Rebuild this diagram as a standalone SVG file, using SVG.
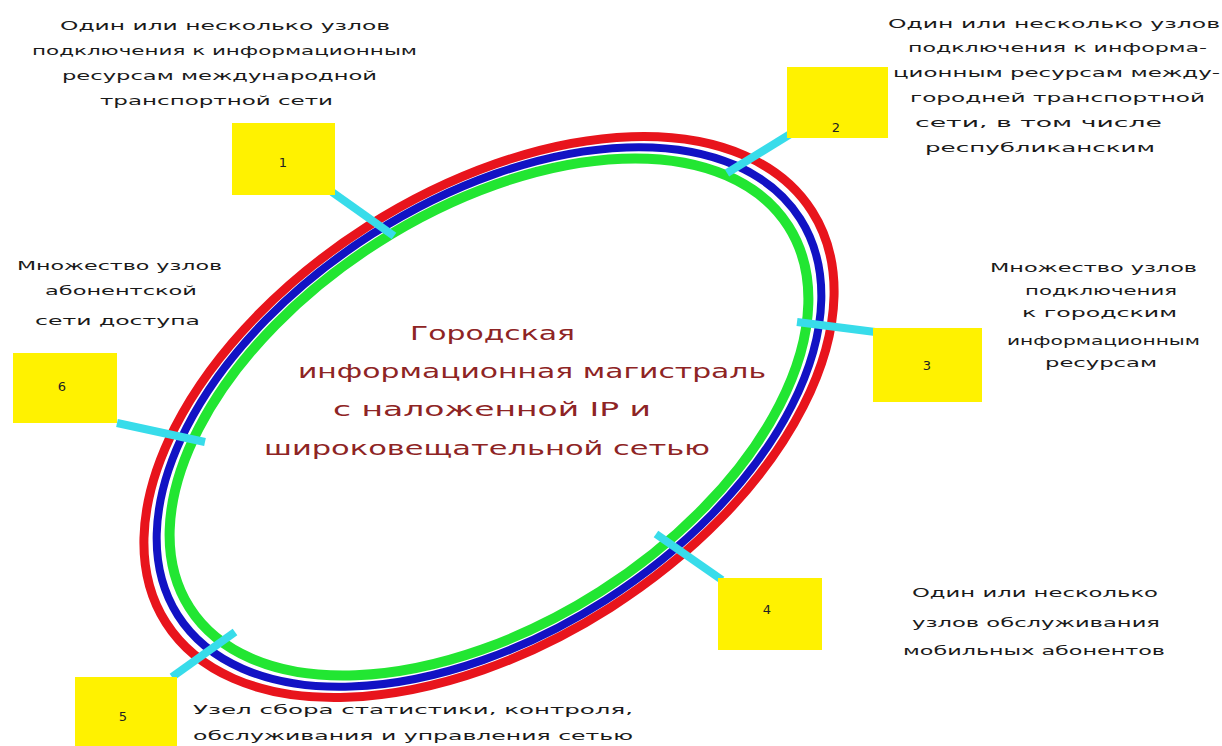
<svg xmlns="http://www.w3.org/2000/svg" width="1222" height="746" viewBox="0 0 1222 746">
<style>
.bg{fill:#ffffff}
.ring{fill:none}
.r{stroke:#e8141c;stroke-width:9}
.b{stroke:#1212c4;stroke-width:8}
.g{stroke:#22e632;stroke-width:10}
.conn{stroke:#38dcea;stroke-width:8;stroke-linecap:butt}
.box{fill:#fff200}
.num{font-family:"DejaVu Sans",sans-serif;font-size:13px;fill:#222;text-anchor:middle}
.t{font-family:"DejaVu Sans",sans-serif;font-size:13px;fill:#1a1a1a}
.c{font-family:"DejaVu Sans",sans-serif;font-size:20px;fill:#8e2424}
</style>
<rect class="bg" x="0" y="0" width="1222" height="746"/>
<g id="ring" transform="rotate(-32.5 489 417)">
<ellipse class="ring r" cx="489" cy="417" rx="383" ry="226"/>
<ellipse class="ring b" cx="489" cy="417" rx="369" ry="217"/>
<ellipse class="ring g" cx="489" cy="417" rx="355" ry="207"/>
</g>
<g id="title">
<text class="c" x="410" y="340" textLength="165" lengthAdjust="spacingAndGlyphs">Городская</text>
<text class="c" x="298" y="378" textLength="468" lengthAdjust="spacingAndGlyphs">информационная магистраль</text>
<text class="c" x="333" y="416" textLength="318" lengthAdjust="spacingAndGlyphs">с наложенной IP и</text>
<text class="c" x="264" y="455" textLength="446" lengthAdjust="spacingAndGlyphs">широковещательной сетью</text>
</g>
<g id="connectors">
<line class="conn" x1="332" y1="192" x2="394" y2="236"/>
<line class="conn" x1="727" y1="173" x2="792" y2="133"/>
<line class="conn" x1="797" y1="322" x2="883" y2="333"/>
<line class="conn" x1="656" y1="534" x2="722" y2="580"/>
<line class="conn" x1="172" y1="677" x2="235" y2="632"/>
<line class="conn" x1="117" y1="423" x2="205" y2="442"/>
</g>
<g id="node1">
<rect class="box" x="232" y="123" width="103" height="72"/>
<text class="num" x="283" y="167">1</text>
<text class="t" x="60" y="30" textLength="330" lengthAdjust="spacingAndGlyphs">Один или несколько узлов</text>
<text class="t" x="32" y="55" textLength="385" lengthAdjust="spacingAndGlyphs">подключения к информационным</text>
<text class="t" x="62" y="80" textLength="315" lengthAdjust="spacingAndGlyphs">ресурсам международной</text>
<text class="t" x="100" y="105" textLength="233" lengthAdjust="spacingAndGlyphs">транспортной сети</text>
</g>
<g id="node2">
<rect class="box" x="787" y="67" width="101" height="71"/>
<text class="num" x="836" y="132">2</text>
<text class="t" x="888" y="28" textLength="332" lengthAdjust="spacingAndGlyphs">Один или несколько узлов</text>
<text class="t" x="908" y="52" textLength="299" lengthAdjust="spacingAndGlyphs">подключения к информа-</text>
<text class="t" x="893" y="77" textLength="327" lengthAdjust="spacingAndGlyphs">ционным ресурсам между-</text>
<text class="t" x="910" y="102" textLength="295" lengthAdjust="spacingAndGlyphs">городней транспортной</text>
<text class="t" x="915" y="127" textLength="247" lengthAdjust="spacingAndGlyphs">сети, в том числе</text>
<text class="t" x="925" y="152" textLength="230" lengthAdjust="spacingAndGlyphs">республиканским</text>
</g>
<g id="node3">
<rect class="box" x="873" y="328" width="109" height="74"/>
<text class="num" x="927" y="370">3</text>
<text class="t" x="990" y="272" textLength="207" lengthAdjust="spacingAndGlyphs">Множество узлов</text>
<text class="t" x="1025" y="295" textLength="152" lengthAdjust="spacingAndGlyphs">подключения</text>
<text class="t" x="1022" y="317" textLength="155" lengthAdjust="spacingAndGlyphs">к городским</text>
<text class="t" x="1007" y="345" textLength="193" lengthAdjust="spacingAndGlyphs">информационным</text>
<text class="t" x="1045" y="367" textLength="112" lengthAdjust="spacingAndGlyphs">ресурсам</text>
</g>
<g id="node4">
<rect class="box" x="718" y="578" width="104" height="72"/>
<text class="num" x="767" y="614">4</text>
<text class="t" x="912" y="597" textLength="246" lengthAdjust="spacingAndGlyphs">Один или несколько</text>
<text class="t" x="912" y="627" textLength="248" lengthAdjust="spacingAndGlyphs">узлов обслуживания</text>
<text class="t" x="903" y="655" textLength="262" lengthAdjust="spacingAndGlyphs">мобильных абонентов</text>
</g>
<g id="node5">
<rect class="box" x="75" y="677" width="102" height="75"/>
<text class="num" x="123" y="721">5</text>
<text class="t" x="193" y="714" textLength="440" lengthAdjust="spacingAndGlyphs">Узел сбора статистики, контроля,</text>
<text class="t" x="193" y="740" textLength="440" lengthAdjust="spacingAndGlyphs">обслуживания и управления сетью</text>
</g>
<g id="node6">
<rect class="box" x="13" y="353" width="104" height="70"/>
<text class="num" x="62" y="391">6</text>
<text class="t" x="17" y="270" textLength="205" lengthAdjust="spacingAndGlyphs">Множество узлов</text>
<text class="t" x="45" y="295" textLength="152" lengthAdjust="spacingAndGlyphs">абонентской</text>
<text class="t" x="35" y="325" textLength="165" lengthAdjust="spacingAndGlyphs">сети доступа</text>
</g>
</svg>
